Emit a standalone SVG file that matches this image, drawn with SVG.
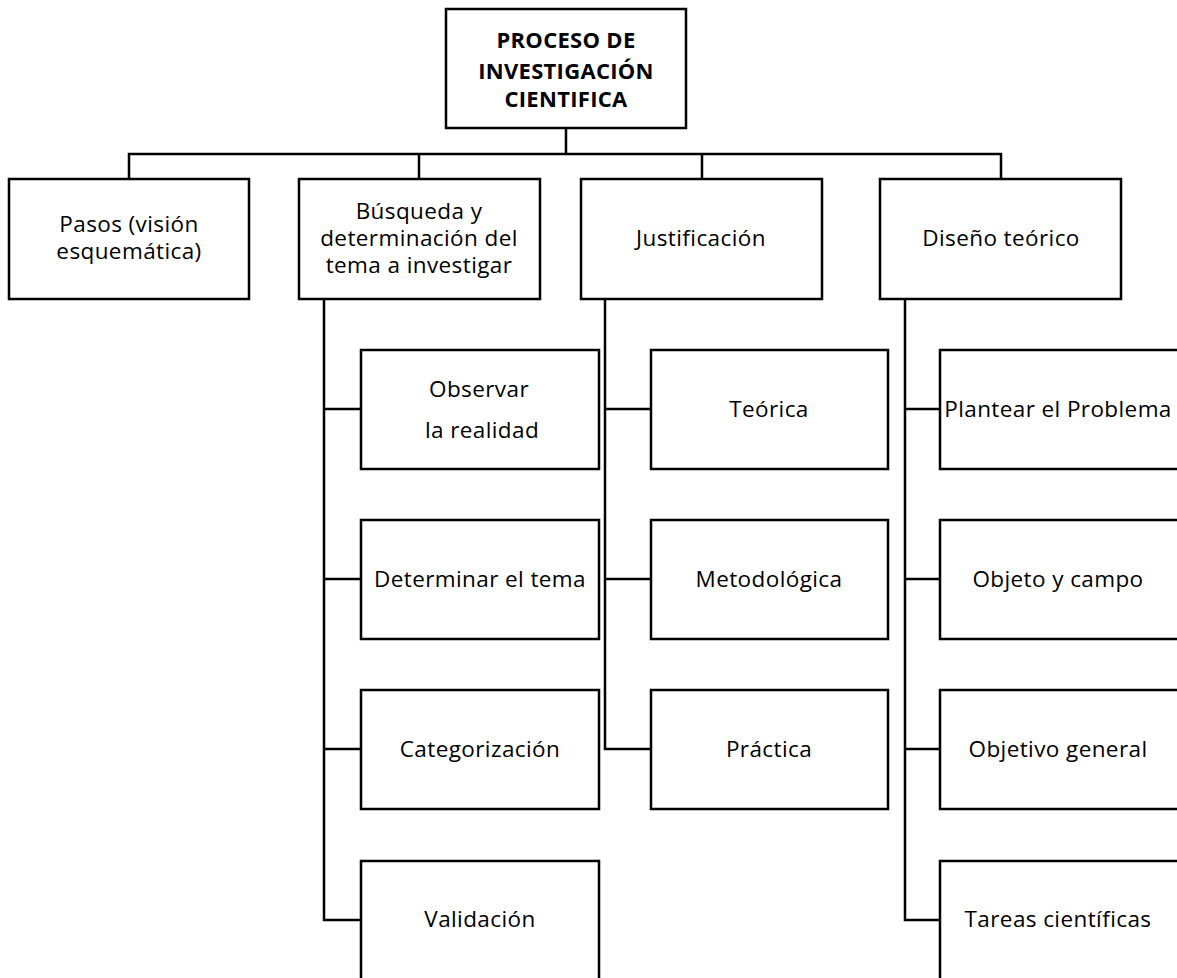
<svg xmlns="http://www.w3.org/2000/svg" width="1177" height="978" viewBox="0 0 1177 978">
  <style>
    .box { fill: #ffffff; stroke: #000000; stroke-width: 2.5; }
    .wire { fill: none; stroke: #000000; stroke-width: 2.5; }
    .lbl { font-family: "Open Sans", Lato, "Liberation Sans", sans-serif; font-size: 22.5px; letter-spacing: 0.4px; fill: #000000; text-anchor: middle; }
    .title { font-family: "Open Sans", Lato, "Liberation Sans", sans-serif; font-size: 22px; letter-spacing: 0.3px; font-weight: bold; fill: #000000; text-anchor: middle; }
  </style>
  <rect width="1177" height="978" fill="#ffffff"/>

  <!-- connectors -->
  <g id="connectors">
    <path class="wire" d="M566 128 V154"/>
    <path class="wire" d="M129 179 V154 H1001 V179"/>
    <path class="wire" d="M419 154 V179"/>
    <path class="wire" d="M702 154 V179"/>
    <!-- Búsqueda branch -->
    <path class="wire" d="M324 299 V920 H361"/>
    <path class="wire" d="M324 409 H361 M324 579 H361 M324 749 H361"/>
    <!-- Justificación branch -->
    <path class="wire" d="M605 299 V749 H651"/>
    <path class="wire" d="M605 409 H651 M605 579 H651"/>
    <!-- Diseño branch -->
    <path class="wire" d="M905 299 V920 H940"/>
    <path class="wire" d="M905 409 H940 M905 579 H940 M905 749 H940"/>
  </g>

  <g id="root">
    <rect class="box" x="446" y="9" width="240" height="119"/>
    <text class="title" x="566" y="48">PROCESO DE</text>
    <text class="title" x="566" y="79">INVESTIGACIÓN</text>
    <text class="title" x="566" y="107">CIENTIFICA</text>
  </g>

  <g id="pasos">
    <rect class="box" x="9" y="179" width="240" height="120"/>
    <text class="lbl" x="129" y="232">Pasos (visión</text>
    <text class="lbl" x="129" y="259">esquemática)</text>
  </g>

  <g id="busqueda">
    <rect class="box" x="299" y="179" width="241" height="120"/>
    <text class="lbl" x="419" y="219">Búsqueda y</text>
    <text class="lbl" x="419" y="246">determinación del</text>
    <text class="lbl" x="419" y="273">tema a investigar</text>
  </g>

  <g id="justificacion">
    <rect class="box" x="581" y="179" width="241" height="120"/>
    <text class="lbl" x="701" y="246">Justificación</text>
  </g>

  <g id="diseno">
    <rect class="box" x="880" y="179" width="241" height="120"/>
    <text class="lbl" x="1001" y="246">Diseño teórico</text>
  </g>

  <g id="observar">
    <rect class="box" x="361" y="350" width="238" height="119"/>
    <text class="lbl" x="479" y="397">Observar</text>
    <text class="lbl" x="482" y="438">la realidad</text>
  </g>

  <g id="determinar">
    <rect class="box" x="361" y="520" width="238" height="119"/>
    <text class="lbl" x="480" y="587">Determinar el tema</text>
  </g>

  <g id="categorizacion">
    <rect class="box" x="361" y="690" width="238" height="119"/>
    <text class="lbl" x="480" y="757">Categorización</text>
  </g>

  <g id="validacion">
    <rect class="box" x="361" y="861" width="238" height="130"/>
    <text class="lbl" x="480" y="927">Validación</text>
  </g>

  <g id="teorica">
    <rect class="box" x="651" y="350" width="237" height="119"/>
    <text class="lbl" x="769" y="417">Teórica</text>
  </g>

  <g id="metodologica">
    <rect class="box" x="651" y="520" width="237" height="119"/>
    <text class="lbl" x="769" y="587">Metodológica</text>
  </g>

  <g id="practica">
    <rect class="box" x="651" y="690" width="237" height="119"/>
    <text class="lbl" x="769" y="757">Práctica</text>
  </g>

  <g id="plantear">
    <rect class="box" x="940" y="350" width="245" height="119"/>
    <text class="lbl" x="1058" y="417">Plantear el Problema</text>
  </g>

  <g id="objeto">
    <rect class="box" x="940" y="520" width="245" height="119"/>
    <text class="lbl" x="1058" y="587">Objeto y campo</text>
  </g>

  <g id="objetivo">
    <rect class="box" x="940" y="690" width="245" height="119"/>
    <text class="lbl" x="1058" y="757">Objetivo general</text>
  </g>

  <g id="tareas">
    <rect class="box" x="940" y="861" width="245" height="130"/>
    <text class="lbl" x="1058" y="927">Tareas científicas</text>
  </g>
</svg>
